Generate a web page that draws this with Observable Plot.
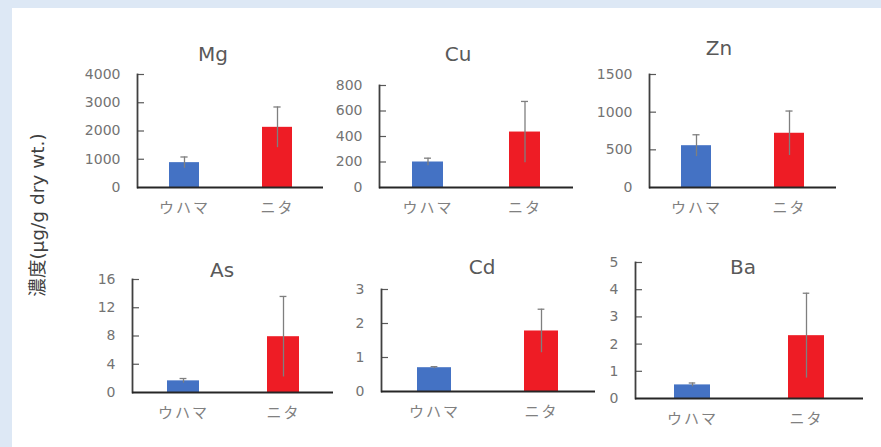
<!DOCTYPE html>
<html>
<head>
<meta charset="utf-8">
<script src="https://cdn.jsdelivr.net/npm/d3@7"></script>
<script src="https://cdn.jsdelivr.net/npm/@observablehq/plot@0.6"></script>
<style>
  html, body { margin: 0; padding: 0; }
  body { width: 881px; height: 447px; background: #dde8f5; position: relative; overflow: hidden; font-family: "DejaVu Sans", "Noto Sans CJK JP", sans-serif; }
  #panel { position: absolute; left: 12px; top: 8px; width: 869px; height: 439px; background: #ffffff; }
  .chart { position: absolute; }
  .title { position: absolute; font-size: 20px; line-height: 20px; color: #595959; white-space: nowrap; transform: translateX(-50%); }
  #ylab { position: absolute; font-size: 18.5px; line-height: 19px; color: #404040; white-space: nowrap; transform: translate(-50%, -50%) rotate(-90deg); }
  g[aria-label="x-axis tick label"] text { letter-spacing: 2px; font-size: 15px; font-family: "Noto Sans CJK JP", sans-serif; }
  g[aria-label="y-axis tick label"] text { font-size: 14px; font-family: "DejaVu Sans", sans-serif; }
</style>
</head>
<body>
<div id="panel"></div>
<div id="root"></div>
<script>
// ---- data ----
const sites = ["ウハマ", "ニタ"];
const elements = ["Mg", "Cu", "Zn", "As", "Cd", "Ba"];
const uhamaMean = [880, 200, 555, 1.65, 0.70, 0.50];
const uhamaErr  = [200, 30, 145, 0.33, 0.03, 0.07];
const nitaMean  = [2130, 435, 720, 7.9, 1.78, 2.31];
const nitaErr   = [720, 240, 295, 5.7, 0.64, 1.56];
const yMax = [4000, 800, 1500, 16, 3, 5];
const yTicks = [
  [0, 1000, 2000, 3000, 4000],
  [0, 200, 400, 600, 800],
  [0, 500, 1000, 1500],
  [0, 4, 8, 12, 16],
  [0, 1, 2, 3],
  [0, 1, 2, 3, 4, 5]
];
const yLabel = "濃度(μg/g dry wt.)";

// ---- layout (pixel positions of each panel's axes and title) ----
const layout = [
  {x0: 137, x1: 323, top: 74,  base: 187, tx: 213, ty: 54},
  {x0: 379, x1: 573, top: 85,  base: 187, tx: 458, ty: 54},
  {x0: 649, x1: 836, top: 74,  base: 187, tx: 719, ty: 48},
  {x0: 132, x1: 333, top: 279, base: 392, tx: 222, ty: 270},
  {x0: 381, x1: 595, top: 289, base: 391, tx: 482, ty: 267},
  {x0: 635, x1: 863, top: 262, base: 398, tx: 743, ty: 267}
];
const colors = ["#4472C4", "#EE1C25"];
const ML = 50, MR = 10, MT = 10, MB = 40;
const pInner = 0.68, pOuter = 0.34;

const root = document.getElementById("root");

elements.forEach((el, i) => {
  const L = layout[i];
  const W = L.x1 - L.x0, H = L.base - L.top;
  const data = sites.map((s, j) => ({
    site: s,
    mean: j === 0 ? uhamaMean[i] : nitaMean[i],
    err: j === 0 ? uhamaErr[i] : nitaErr[i]
  }));
  const step = W / 2;
  const bw = step * (1 - pInner);
  const capInset = Math.max(0, (bw - 7) / 2);

  const chart = Plot.plot({
    width: W + ML + MR,
    height: H + MT + MB,
    marginLeft: ML, marginRight: MR, marginTop: MT, marginBottom: MB,
    style: {background: "transparent", overflow: "visible", fontFamily: "DejaVu Sans"},
    x: {domain: sites, paddingInner: pInner, paddingOuter: pOuter, align: 0.5, axis: null},
    y: {domain: [0, yMax[i]], axis: null},
    color: {domain: sites, range: colors},
    marks: [
      Plot.barY(data, {x: "site", y: "mean", fill: "site"}),
      Plot.ruleX(data, {x: "site", y1: d => d.mean - d.err, y2: d => d.mean + d.err, stroke: "#7f7f7f", strokeWidth: 1.3}),
      Plot.tickY(data, {x: "site", y: d => d.mean + d.err, stroke: "#7f7f7f", strokeWidth: 1.3, insetLeft: capInset, insetRight: capInset}),
      Plot.ruleY(yTicks[i].slice(1), {stroke: "#595959", strokeWidth: 1.2, insetRight: W - 7}),
      Plot.frame({anchor: "left", stroke: "#404040", strokeWidth: 1.8}),
      Plot.ruleY([0], {stroke: "#262626", strokeWidth: 2}),
      Plot.axisY({ticks: yTicks[i], tickSize: 0, tickPadding: 17, fontSize: 14, color: "#737373", tickFormat: d => String(d), label: null}),
      Plot.axisX({tickSize: 0, tickPadding: 15, fontSize: 15, color: "#808080", label: null})
    ]
  });
  chart.classList.add("chart");
  chart.style.left = (L.x0 - ML) + "px";
  chart.style.top = (L.top - MT) + "px";
  root.appendChild(chart);

  const t = document.createElement("div");
  t.className = "title";
  t.textContent = el;
  t.style.left = L.tx + "px";
  t.style.top = (L.ty - 9.6) + "px";
  root.appendChild(t);
});

const yl = document.createElement("div");
yl.id = "ylab";
yl.textContent = yLabel;
yl.style.left = "37px";
yl.style.top = "215px";
root.appendChild(yl);
</script>
</body>
</html>
